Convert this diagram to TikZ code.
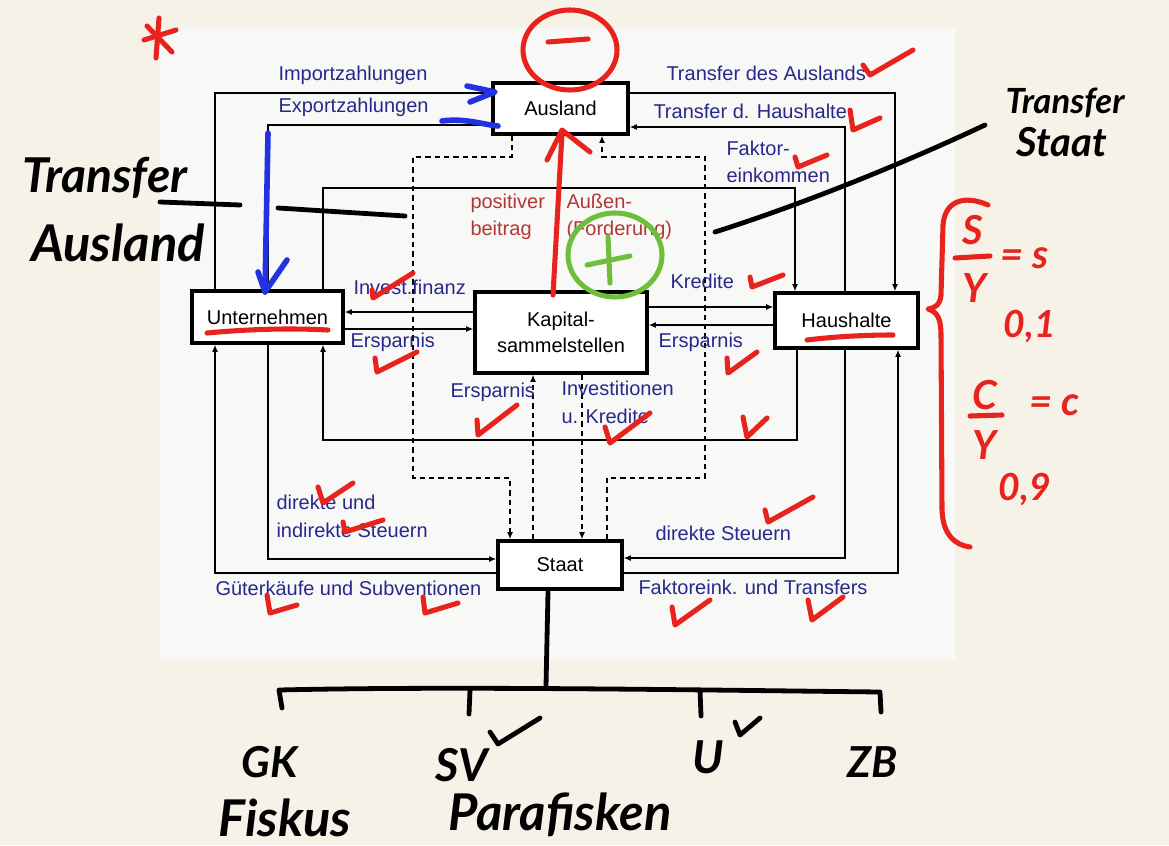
\documentclass[tikz,border=0pt]{standalone}
\usepackage{fontspec}
\setmainfont{Liberation Sans}
\newfontfamily\handfont{Lato}
\usetikzlibrary{arrows.meta}

\definecolor{paper}{RGB}{246,242,232}
\definecolor{panel}{RGB}{248,249,246}
\definecolor{labelblue}{RGB}{40,40,140}
\definecolor{labelred}{RGB}{180,55,55}
\definecolor{penred}{RGB}{232,35,30}
\definecolor{penblue}{RGB}{35,50,225}
\definecolor{pengreen}{RGB}{110,190,60}

\tikzset{every picture/.style={line width=0.75pt}}
\tikzset{
  >={Latex[length=5.5pt,width=4.5pt]},
  sector/.style={draw,line width=2.4pt,fill=white,inner sep=0pt,align=center,font=\fontsize{15}{19}\selectfont},
  flow/.style={line width=1.1pt},
  transfer/.style={line width=1.1pt,dash pattern=on 4pt off 3pt},
  lbl/.style={anchor=west,inner sep=0pt,text=labelblue,align=left,font=\fontsize{15}{20.5}\selectfont},
  redlbl/.style={lbl,text=labelred},
  redpen/.style={draw=penred,line width=3.8pt,line cap=round,line join=round},
  bluepen/.style={draw=penblue,line width=4.2pt,line cap=round,line join=round},
  greenpen/.style={draw=pengreen,line width=3.8pt,line cap=round,line join=round},
  blackpen/.style={draw=black,line width=3.6pt,line cap=round,line join=round},
  hand/.style={inner sep=0pt,font=\handfont\bfseries\itshape}
}

\begin{document}
\begin{tikzpicture}[x=0.75pt,y=0.75pt,yscale=-1,xscale=1]

% paper and printed panel
\fill[paper] (0,0) rectangle (1169,845);
\fill[panel] (160,28) rectangle (955,660);
\useasboundingbox (0,0) rectangle (1169,845);

% sectors
\node[sector,minimum width=101.25pt,minimum height=38.25pt] (aus) at (560.5,108.5) {Ausland};
\node[sector,minimum width=113.25pt,minimum height=39pt] (unt) at (267.5,317) {Unternehmen};
\node[sector,minimum width=129pt,minimum height=60.75pt] (kap) at (561,332.5) {Kapital-\\sammelstellen};
\node[sector,minimum width=107.25pt,minimum height=41.25pt] (hh) at (846.5,320.5) {Haushalte};
\node[sector,minimum width=93pt,minimum height=36pt] (st) at (560,565) {Staat};

% flows Ausland
\draw[flow,->] (unt.north -| 215,0) -- (215,93) -- (aus.west |- 0,93);
\draw[flow,->] (aus.west |- 0,125) -- (268,125) -- (unt.north -| 268,0);
\draw[flow,->] (aus.east |- 0,93) -- (895,93) -- (hh.north -| 895,0);
\draw[flow,->] (hh.north -| 845,0) -- (845,127) -- (aus.east |- 0,127);

% flows Unternehmen / Haushalte
\draw[flow,->] (unt.north -| 323,0) -- (323,188) -- (795,188) -- (hh.north -| 795,0);
\draw[flow,->] (hh.south -| 797,0) -- (797,440) -- (323,440) -- (unt.south -| 323,0);

% flows Kapitalsammelstellen
\draw[flow,->] (kap.west |- 0,312) -- (unt.east |- 0,312);
\draw[flow,->] (unt.east |- 0,329) -- (kap.west |- 0,329);
\draw[flow,->] (kap.east |- 0,307) -- (hh.west |- 0,307);
\draw[flow,->] (hh.west |- 0,325) -- (kap.east |- 0,325);

% flows Staat
\draw[flow,->] (hh.south -| 845,0) -- (845,558) -- (st.east |- 0,558);
\draw[flow,->] (st.east |- 0,573) -- (898,573) -- (hh.south -| 898,0);
\draw[flow,->] (st.west |- 0,573) -- (215,573) -- (unt.south -| 215,0);
\draw[flow,->] (unt.south -| 268,0) -- (268,559) -- (st.west |- 0,559);

% transfers (dashed)
\draw[transfer,->] (aus.south -| 512,0) -- (512,157) -- (413,157) -- (413,478) -- (510,478) -- (st.north -| 510,0);
\draw[transfer,->] (st.north -| 607,0) -- (607,478) -- (705,478) -- (705,157) -- (602,157) -- (aus.south -| 602,0);
\draw[transfer,->] (st.north -| 533,0) -- (kap.south -| 533,0);
\draw[transfer,->] (kap.south -| 582,0) -- (st.north -| 582,0);

% labels
\node[lbl] (limp) at (278,75) {Importzahlungen};
\node[lbl] (lexp) at (278,107) {Exportzahlungen};
\node[lbl] (ltra) at (666,73) {Transfer des Auslands};
\node[lbl] (ltrh) at (653,111) {Transfer d. Haushalte};
\node[lbl] (lfak) at (726,162) {Faktor-\\einkommen};
\node[lbl] (linv) at (353,287) {Invest.finanz};
\node[lbl] (lesu) at (350,342) {Ersparnis};
\node[lbl] (lkre) at (670,281) {Kredite};
\node[lbl] (lesh) at (658,342) {Ersparnis};
\node[lbl] (less) at (450,392) {Ersparnis};
\node[lbl] (likr) at (561,402.5) {Investitionen\\u. Kredite};
\node[lbl] (lstu) at (276,516.5) {direkte und\\indirekte Steuern};
\node[lbl] (lsth) at (655,533) {direkte Steuern};
\node[lbl] (lgue) at (215,588) {Güterkäufe und Subventionen};
\node[lbl] (lfkt) at (638,587) {Faktoreink. und Transfers};
\node[redlbl] (lpos) at (470,217) {positiver\\beitrag};
\node[redlbl] (laus) at (566,217) {Außen-\\(Forderung)};

% handwriting: blue
\draw[bluepen] (268,133) -- (265,292);
\draw[bluepen] (258,272) -- (265,292) -- (287,260);
\draw[bluepen] (467,86) -- (495,92) -- (470,102);
\draw[bluepen] (442,121) .. controls (465,118) and (480,124) .. (498,126);

% handwriting: red
\draw[redpen] (159,18) -- (156,58);
\draw[redpen] (144,40) -- (176,30);
\draw[redpen] (147,26) -- (172,52);
\draw[redpen] (570,50) ellipse [x radius=47,y radius=40];
\draw[redpen] (548,42) -- (588,39);
\draw[redpen] (553,295) -- (562,133);
\draw[redpen] (547,160) -- (562,130) -- (590,152);
\draw[redpen] (207,333) .. controls (250,329) and (290,328) .. (328,330);
\draw[redpen] (807,340) .. controls (840,336) and (870,335) .. (893,335);
\foreach \a/\b/\c/\d/\e/\f in {863/65/870/75/913/50, 850/110/853/130/880/118,
    795/157/798/167/827/155, 372/290/373/298/413/273, 375/358/377/372/417/352,
    477/420/478/435/517/405, 750/277/752/287/783/275, 727/358/728/373/757/352,
    605/427/610/443/650/413, 743/417/747/437/767/418, 318/487/323/503/353/483,
    343/522/345/532/383/520, 267/595/270/613/297/605, 423/597/425/613/458/603,
    765/510/768/522/813/497, 672/607/675/625/710/600, 808/600/812/620/843/597}
  \draw[redpen] (\a,\b) -- (\c,\d) -- (\e,\f);

% handwriting: green
\draw[greenpen] (615,255) ellipse [x radius=47,y radius=42];
\draw[greenpen] (608,237) -- (610,283);
\draw[greenpen] (587,265) -- (630,256);

% right bracket with quotas
\draw[redpen] (988,205) .. controls (965,195) and (945,200) .. (943,225) -- (941,295)
  .. controls (940,305) and (935,308) .. (928,309) .. controls (938,312) and (941,320) .. (941,335)
  -- (942,510) .. controls (943,535) and (955,545) .. (970,547);
\node[hand,text=penred,font=\handfont\bfseries\itshape\fontsize{30}{30}\selectfont] (qs) at (973,230) {S};
\draw[redpen] (955,258) -- (990,256);
\node[hand,text=penred,font=\handfont\bfseries\itshape\fontsize{30}{30}\selectfont] (qy1) at (975,288) {Y};
\node[hand,text=penred,font=\handfont\bfseries\itshape\fontsize{30}{30}\selectfont] (qe1) at (1025,258) {= s};
\node[hand,text=penred,font=\handfont\bfseries\itshape\fontsize{28}{28}\selectfont] (qv1) at (1030,327) {0,1};
\node[hand,text=penred,font=\handfont\bfseries\itshape\fontsize{30}{30}\selectfont] (qc) at (985,395) {C};
\draw[redpen] (970,416) -- (1002,415);
\node[hand,text=penred,font=\handfont\bfseries\itshape\fontsize{30}{30}\selectfont] (qy2) at (985,445) {Y};
\node[hand,text=penred,font=\handfont\bfseries\itshape\fontsize{30}{30}\selectfont] (qe2) at (1055,405) {= c};
\node[hand,text=penred,font=\handfont\bfseries\itshape\fontsize{28}{28}\selectfont] (qv2) at (1025,490) {0,9};

% handwriting: black
\node[hand,font=\handfont\bfseries\itshape\fontsize{36}{36}\selectfont] (htl) at (105,178) {Transfer};
\node[hand,font=\handfont\bfseries\itshape\fontsize{38}{38}\selectfont] (hal) at (118,243) {Ausland};
\draw[blackpen] (160,202) -- (240,205);
\draw[blackpen] (278,208) -- (405,216);
\node[hand,font=\handfont\bfseries\itshape\fontsize{26}{26}\selectfont] (htr) at (1065,103) {Transfer};
\node[hand,font=\handfont\bfseries\itshape\fontsize{30}{30}\selectfont] (hst) at (1062,142) {Staat};
\draw[blackpen] (985,125) .. controls (900,165) and (800,205) .. (715,232);

% Staat subdivision
\draw[blackpen] (548,592) -- (546,686);
\draw[blackpen] (282,708) -- (279,690) .. controls (450,686) and (700,690) .. (880,692) -- (881,712);
\draw[blackpen] (470,690) -- (469,714);
\draw[blackpen] (700,690) -- (701,716);
\node[hand,font=\handfont\bfseries\itshape\fontsize{32}{32}\selectfont] (hgk) at (270,762) {GK};
\node[hand,font=\handfont\bfseries\itshape\fontsize{38}{38}\selectfont] (hfi) at (285,818) {Fiskus};
\node[hand,font=\handfont\bfseries\itshape\fontsize{34}{34}\selectfont] (hsv) at (462,765) {SV};
\node[hand,font=\handfont\bfseries\itshape\fontsize{38}{38}\selectfont] (hpa) at (560,815) {Parafisken};
\node[hand,font=\handfont\bfseries\itshape\fontsize{34}{34}\selectfont] (hu) at (708,757) {U};
\node[hand,font=\handfont\bfseries\itshape\fontsize{32}{32}\selectfont] (hzb) at (873,762) {ZB};
\draw[blackpen] (490,732) -- (498,744) -- (540,718);
\draw[blackpen] (735,722) -- (740,735) -- (760,718);

\end{tikzpicture}
\end{document}
